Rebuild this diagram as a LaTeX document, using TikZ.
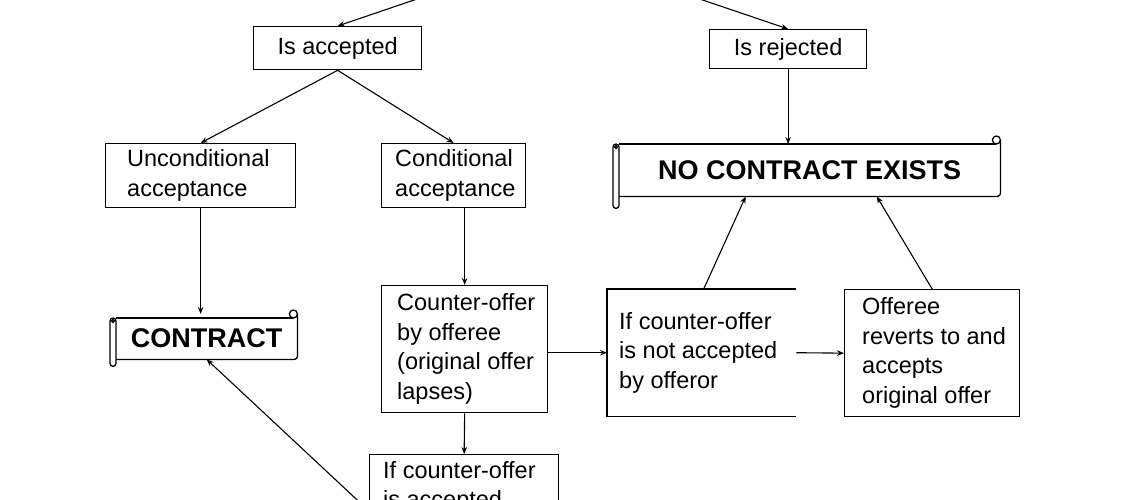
\documentclass[tikz,border=0pt]{standalone}
\usepackage{fontspec}
\setmainfont{Liberation Sans}
\usetikzlibrary{arrows.meta}
\tikzset{
  boxnode/.style={draw, line width=1.3pt, inner sep=0pt, anchor=north west},
  txt/.style={inner sep=0pt, align=left, font=\fontsize{23.5}{29.5}\selectfont},
  scrolltxt/.style={inner sep=0pt, anchor=north west, font=\bfseries\fontsize{27}{32}\selectfont},
  conn/.style={line width=1.1pt, -{Stealth[length=7pt,width=5.5pt]}},
  scrollline/.style={line width=1.3pt},
}
% scroll outline around a node: #1 node name, #2 how far the left roll hangs below
\newcommand\drawscroll[2]{%
  \draw[scrollline] (#1.north west) -- ([xshift=-4pt]#1.north east);
  \draw[scrollline] ([xshift=-4pt,yshift=4pt]#1.north east) circle[radius=4pt];
  \draw[scrollline, rounded corners=3pt] ([yshift=4pt]#1.north east) -- (#1.south east) -- (#1.south west);
  \draw[scrollline, rounded corners=3pt] ([xshift=-6pt]#1.north west) rectangle ([yshift=-#2]#1.south west);
  \draw[scrollline] ([xshift=-3pt,yshift=-3pt]#1.north west) circle[radius=1.5pt];
}
\begin{document}
\begin{tikzpicture}[x=1pt,y=-1pt]
\useasboundingbox (0,0) rectangle (1140,500);
\clip (0,0) rectangle (1140,500);
\fill[white] (0,0) rectangle (1140,500);

% boxes
\node[boxnode, txt, anchor=north west, minimum width=168pt, minimum height=43pt] (isacc) at (253,26) {Is accepted};
\node[boxnode, txt, anchor=north west, minimum width=157pt, minimum height=39pt] (isrej) at (709,29) {Is rejected};

\node[boxnode, minimum width=190pt, minimum height=64pt] (uncond) at (105,143) {};
\node[txt, anchor=west] (uncondT) at ([xshift=22pt]uncond.west) {Unconditional\\acceptance};

\node[boxnode, minimum width=144pt, minimum height=64pt] (cond) at (381,143) {};
\node[txt, anchor=west] (condT) at ([xshift=14pt]cond.west) {Conditional\\acceptance};

\node[scrolltxt, minimum width=381pt, minimum height=52pt] (nce) at (619,144) {NO CONTRACT EXISTS};
\drawscroll{nce}{12pt}

\node[scrolltxt, minimum width=181pt, minimum height=41pt] (contract) at (116,318) {CONTRACT};
\drawscroll{contract}{7pt}

\node[boxnode, minimum width=166pt, minimum height=127pt] (counter) at (381,285) {};
\node[txt, anchor=west] (counterT) at ([xshift=16pt]counter.west) {Counter-offer\\by offeree\\(original offer\\lapses)};

\node[inner sep=0pt, anchor=north west, minimum width=189pt, minimum height=127pt] (notacc) at (607,289) {};
\draw[scrollline] (notacc.north east) -- (notacc.north west) -- (notacc.south west) -- (notacc.south east);
\node[txt, anchor=west] (notaccT) at ([xshift=12pt]notacc.west) {If counter-offer\\is not accepted\\by offeror};

\node[boxnode, minimum width=175pt, minimum height=127pt] (offeree) at (844,289) {};
\node[txt, anchor=west] (offereeT) at ([xshift=18pt]offeree.west) {Offeree\\reverts to and\\accepts\\original offer};

\node[boxnode, minimum width=189pt, minimum height=130pt] (acc) at (369,454) {};
\node[txt, anchor=north west] (accT) at ([xshift=14pt,yshift=-7pt]acc.north west) {If counter-offer\\is accepted};

% connectors
\coordinate (src) at (558,-49);
\draw[conn] (src) -- (isacc.north);
\draw[conn] (src) -- (isrej.north);
\draw[conn] (isacc.south) -- (uncond.north);
\draw[conn] (isacc.south) -- (cond.north);
\draw[conn] (isrej.south) -- (isrej.south |- nce.north);
\draw[conn] (uncond.south) -- ([yshift=4pt]uncond.south |- contract.north);
\draw[conn] (counter.north |- cond.south) -- (counter.north);
\draw[conn] (counter.east |- notacc.west) -- (notacc.west);
\draw[conn] (notacc.east) -- (offeree.west);
\draw[conn] ([xshift=2pt]notacc.north) -- ([xshift=-64pt]nce.south);
\draw[conn] (offeree.north) -- ([xshift=67pt]nce.south);
\draw[conn] (counter.south) -- (acc.north);
\draw[conn] ([yshift=-57pt]acc.north west) -- (contract.south);
\end{tikzpicture}
\end{document}
